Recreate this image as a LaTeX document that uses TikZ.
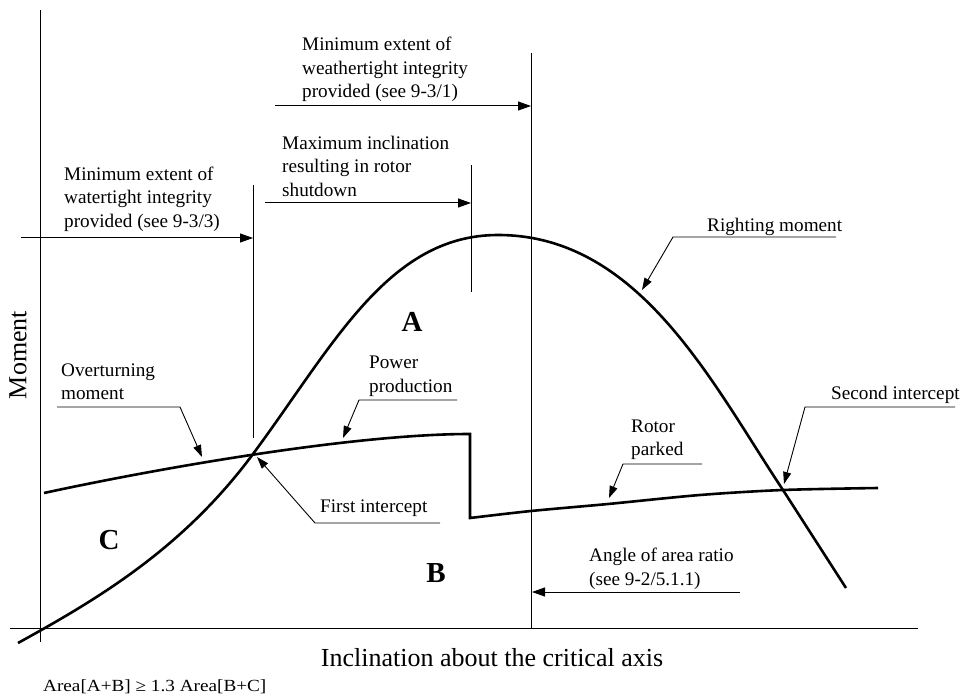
\documentclass[tikz,border=0pt]{standalone}
\usepackage{fontspec}
\setmainfont{Liberation Serif}
\usetikzlibrary{arrows.meta}
\begin{document}
\begin{tikzpicture}[x=1pt,y=-1pt,
  thinline/.style={line width=1pt},
  curve/.style={line width=2.6pt, line join=round},
  arr/.style={line width=1pt,-{Triangle[length=13pt,width=9pt]}},
  lead/.style={line width=0.9pt,-{Triangle[length=12pt,width=8pt]}},
  lbl/.style={font=\fontsize{19.2}{23.5}\selectfont, inner sep=0pt, align=left, anchor=west},
  big/.style={font=\fontsize{29}{30}\selectfont\bfseries, inner sep=0pt}]
\useasboundingbox (0,0) rectangle (962,695);
% axes
\draw[thinline] (40,10) -- (40,642);
\draw[thinline] (10,628) -- (918,628);
\node[font=\fontsize{26}{28}\selectfont, rotate=90, inner sep=0pt] (ylab) at (18,355) {Moment};
\node[font=\fontsize{26}{28}\selectfont, inner sep=0pt] (xlab) at (492,658) {Inclination about the critical axis};
\node[font=\fontsize{17}{20}\selectfont, inner sep=0pt, anchor=west] (ratio) at (43,687) {\scalebox{1.13}[1]{Area[A+B] ≥ 1.3 Area[B+C]}};
% vertical markers
\coordinate (v1t) at (253,185); \coordinate (v1b) at (253,438);
\coordinate (v2t) at (471,165); \coordinate (v2b) at (471,292);
\coordinate (v3t) at (531,53);  \coordinate (v3b) at (531,628);
\draw[thinline] (v1t) -- (v1b);
\draw[thinline] (v2t) -- (v2b);
\draw[thinline] (v3t) -- (v3b);
% horizontal arrows
\coordinate (a1s) at (21,238);  \coordinate (a1e) at (253,238);
\coordinate (a2s) at (275,106); \coordinate (a2e) at (531,106);
\coordinate (a3s) at (265,203); \coordinate (a3e) at (471,203);
\coordinate (a4s) at (740,592); \coordinate (a4e) at (532,592);
\draw[arr] (a1s) -- (a1e);
\draw[arr] (a2s) -- (a2e);
\draw[arr] (a3s) -- (a3e);
\draw[arr] (a4s) -- (a4e);
% labels
\node[lbl] (weather) at (302,69.5) {Minimum extent of\\weathertight integrity\\provided (see 9-3/1)};
\node[lbl] (maxinc) at (282,166) {Maximum inclination\\resulting in rotor\\shutdown};
\node[lbl] (water) at (64,199) {Minimum extent of\\watertight integrity\\provided (see 9-3/3)};
\node[lbl] (overt) at (61,381.5) {Overturning\\moment};
\node[lbl] (power) at (369,376.5) {Power\\production};
\node[lbl] (parked) at (631,440) {Rotor\\parked};
\node[lbl] (angle) at (589,569) {Angle of area ratio\\(see 9-2/5.1.1)};
\node[lbl] (first) at (320,508) {First intercept};
\node[lbl] (right) at (707,227) {Righting moment};
\node[lbl] (second) at (831,395) {Second intercept};
\node[big] (A) at (412,322) {A};
\node[big] (B) at (436,573) {B};
\node[big] (C) at (109,540) {C};
% righting moment curve
\draw[curve] (18,643) .. controls (98,599) and (183,548.5) .. (253,454)
  .. controls (333,346) and (388,235) .. (498,235)
  .. controls (640,235) and (713,385) .. (783,490) -- (846,588);
% overturning moment curve
\draw[curve, line join=miter] (44,493) .. controls (150,470) and (350,434) .. (470,434)
  -- (470,518) -- plot[smooth,tension=0.5] coordinates {(470,518) (531,511) (608,504) (700,495) (783,490) (878,488)};
% leaders
\coordinate (ovU) at (57,407);  \coordinate (ovK) at (180,407);  \coordinate (ovT) at (202,457);
\coordinate (poU) at (457,400); \coordinate (poK) at (359,400);  \coordinate (poT) at (343,438);
\coordinate (fiU) at (440,523); \coordinate (fiK) at (315,523);  \coordinate (fiT) at (257,457);
\coordinate (riU) at (836,237); \coordinate (riK) at (673,237);  \coordinate (riT) at (642,290);
\coordinate (paU) at (702,464); \coordinate (paK) at (623,464);  \coordinate (paT) at (609,498);
\coordinate (seU) at (955,407); \coordinate (seK) at (805,407);  \coordinate (seT) at (784,484);
\draw[lead] (ovU) -- (ovK) -- (ovT);
\draw[lead] (poU) -- (poK) -- (poT);
\draw[lead] (fiU) -- (fiK) -- (fiT);
\draw[lead] (riU) -- (riK) -- (riT);
\draw[lead] (paU) -- (paK) -- (paT);
\draw[lead] (seU) -- (seK) -- (seT);
\end{tikzpicture}
\end{document}
